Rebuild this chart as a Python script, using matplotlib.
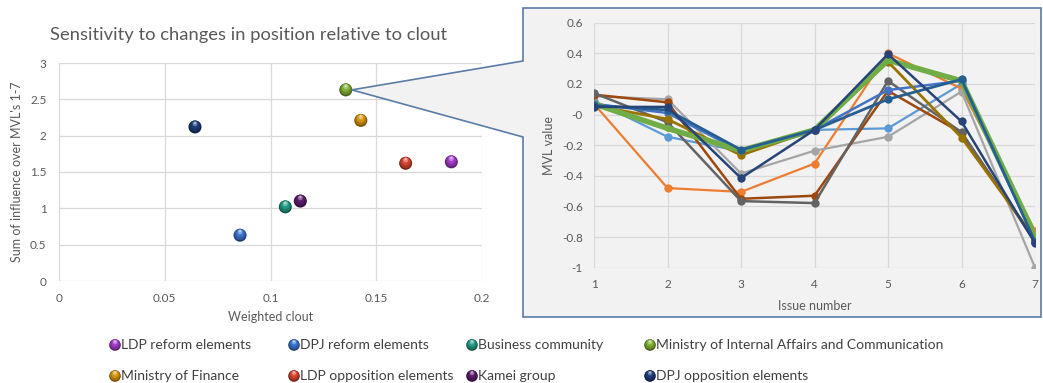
import numpy as np
import matplotlib
matplotlib.use("Agg")
import matplotlib.pyplot as plt
import matplotlib.colors as mcolors
from matplotlib.patches import Polygon
from matplotlib.transforms import offset_copy

plt.rcParams["font.family"] = ["Lato", "DejaVu Sans"]

# left chart: groups, weighted clout and summed influence
groups = ["LDP reform elements", "DPJ reform elements", "Business community",
          "Ministry of Internal Affairs and Communication", "Ministry of Finance",
          "LDP opposition elements", "Kamei group", "DPJ opposition elements"]
clout = [0.1855, 0.0856, 0.1070, 0.1356, 0.1427, 0.1639, 0.1141, 0.0643]
influence = [1.64, 0.63, 1.02, 2.63, 2.21, 1.62, 1.10, 2.12]
group_colors = ["#a23bc9", "#3a72cc", "#229a82", "#7fae32", "#d4930f",
                "#d4442e", "#5b1c6b", "#1c3b78"]

# right chart: MVL value per issue for each run
issues = [1, 2, 3, 4, 5, 6, 7]
mvl_orange = [0.07, -0.48, -0.505, -0.32, 0.40, 0.17, -0.76]
mvl_lightblue = [0.09, -0.145, -0.24, -0.10, -0.09, 0.20, -0.82]
mvl_gray = [0.12, 0.10, -0.385, -0.236, -0.145, 0.15, -1.0]
mvl_darkgray = [0.14, -0.05, -0.565, -0.578, 0.22, -0.115, -0.83]
mvl_brown = [0.13, 0.08, -0.55, -0.53, 0.155, -0.12, -0.82]
mvl_green = [0.07, -0.09, -0.235, -0.10, 0.355, 0.22, -0.79]
mvl_gold = [0.06, -0.03, -0.265, -0.10, 0.345, -0.15, -0.81]
mvl_blue = [0.07, 0.01, -0.24, -0.10, 0.16, 0.22, -0.82]
mvl_darkblue = [0.06, 0.03, -0.23, -0.10, 0.10, 0.23, -0.83]
mvl_navy = [0.05, 0.05, -0.415, -0.10, 0.395, -0.045, -0.84]

W, H = 1043, 383
fig = plt.figure(figsize=(W / 100, H / 100), dpi=100)


def box(x0, y0, x1, y1):
    # pixel box (top-left origin) -> figure fraction rect
    return [x0 / W, 1 - y1 / H, (x1 - x0) / W, (y1 - y0) / H]


def sphere(ax, x, y, color, size, zorder=3):
    # fake glossy ball: dark rim, body, lighter cap, small highlight
    base = np.array(mcolors.to_rgb(color))
    r = np.sqrt(size) / 2
    layers = [(1.0, base * 0.55, 0.0),
              (0.86, base * 0.8, 0.12),
              (0.62, base, 0.3),
              (0.38, np.clip(base + (1 - base) * 0.35, 0, 1), 0.5),
              (0.16, np.clip(base + (1 - base) * 0.7, 0, 1), 0.62)]
    for i, (k, c, dy) in enumerate(layers):
        tr = offset_copy(ax.transData, fig=fig, x=0, y=dy * r, units="points")
        ax.scatter(x, y, s=size * k ** 2, color=c, edgecolors="none",
                   zorder=zorder + 0.1 * i, transform=tr)


tick_col = "#595959"
grid_col = "#d9d9d9"
fmt = matplotlib.ticker.FuncFormatter(lambda v, p: f"{round(v, 2):g}")

# ---- left scatter
ax1 = fig.add_axes(box(59, 63, 482, 281), zorder=0)
for x, y, c in zip(clout, influence, group_colors):
    sphere(ax1, x, y, c, 88)
ax1.set_xlim(0, 0.2)
ax1.set_ylim(0, 3)
ax1.set_xticks(np.arange(0, 0.201, 0.05))
ax1.set_yticks(np.arange(0, 3.01, 0.5))
ax1.xaxis.set_major_formatter(fmt)
ax1.yaxis.set_major_formatter(fmt)
ax1.grid(True, color=grid_col, lw=0.9)
ax1.set_axisbelow(True)
for s in ax1.spines.values():
    s.set_visible(False)
ax1.tick_params(length=0, labelsize=8.5, colors=tick_col, pad=9)
ax1.set_xlabel("Weighted clout", fontsize=9, color=tick_col, labelpad=5)
ax1.set_ylabel("Sum of influence over MVL's 1-7", fontsize=9, color=tick_col, labelpad=5)
fig.text(50 / W, 1 - 35 / H, "Sensitivity to changes in position relative to clout",
         fontsize=13.2, color=tick_col, va="center", ha="left")
fig.text(98 / W, 1 + 22 / H, "y", fontsize=30, color="black", va="baseline", ha="left")

# ---- overlay for callout and legend
ov = fig.add_axes([0, 0, 1, 1], zorder=1)
ov.set_xlim(0, W)
ov.set_ylim(H, 0)
ov.axis("off")
ov.patch.set_alpha(0)
gx = 59 + (482 - 59) * clout[3] / 0.2
gy = 281 - (281 - 63) * influence[3] / 3
call = Polygon([(523, 8), (1041, 8), (1041, 317), (523, 317), (523, 137),
                (gx + 6, gy), (523, 61)], closed=True, facecolor="#f3f2f2",
               edgecolor="#5b7ca6", lw=1.2)
ov.add_patch(call)

lx = [115, 294, 472, 650, 115, 294, 472, 650]
ly = [345, 345, 345, 345, 376, 376, 376, 376]
for k in range(len(groups)):
    sphere(ov, lx[k], ly[k], group_colors[k], 70)
    ov.text(lx[k] + 6, ly[k], groups[k], fontsize=10, color="#404040",
            va="center", ha="left")

# ---- right line chart
ax2 = fig.add_axes(box(594, 22.7, 1035, 267.7), zorder=2)
ax2.patch.set_alpha(0)
runs = [mvl_lightblue, mvl_orange, mvl_gray, mvl_brown, mvl_darkgray,
        mvl_blue, mvl_gold, mvl_green, mvl_darkblue, mvl_navy]
run_colors = ["#5b9bd5", "#ed7d31", "#a5a5a5", "#9e480e", "#636363",
              "#4472c4", "#997300", "#70ad47", "#255e91", "#264478"]
run_lw = [1.6, 1.6, 1.6, 1.8, 1.8, 1.8, 2.0, 4.0, 2.0, 1.8]
for vals, c, lw in zip(runs, run_colors, run_lw):
    ax2.plot(issues, vals, color=c, lw=lw, marker="o", ms=6 if lw < 3 else 5,
             markeredgewidth=0, solid_joinstyle="round")
ax2.set_xlim(1, 7)
ax2.set_ylim(-1, 0.6)
ax2.set_xticks(issues)
ax2.set_yticks(np.arange(-1, 0.61, 0.2))
ax2.yaxis.set_major_formatter(fmt)
ax2.grid(True, color=grid_col, lw=0.9)
ax2.set_axisbelow(True)
for s in ax2.spines.values():
    s.set_visible(False)
ax2.tick_params(length=0, labelsize=8.5, colors=tick_col, pad=8)
for lab in ax2.get_xticklabels() + ax2.get_yticklabels():
    lab.set_clip_on(False)
ax2.set_xlabel("Issue number", fontsize=9, color=tick_col, labelpad=7)
ax2.set_ylabel("MVL value", fontsize=9, color=tick_col, labelpad=5)

fig.savefig("out.png", dpi=100)
